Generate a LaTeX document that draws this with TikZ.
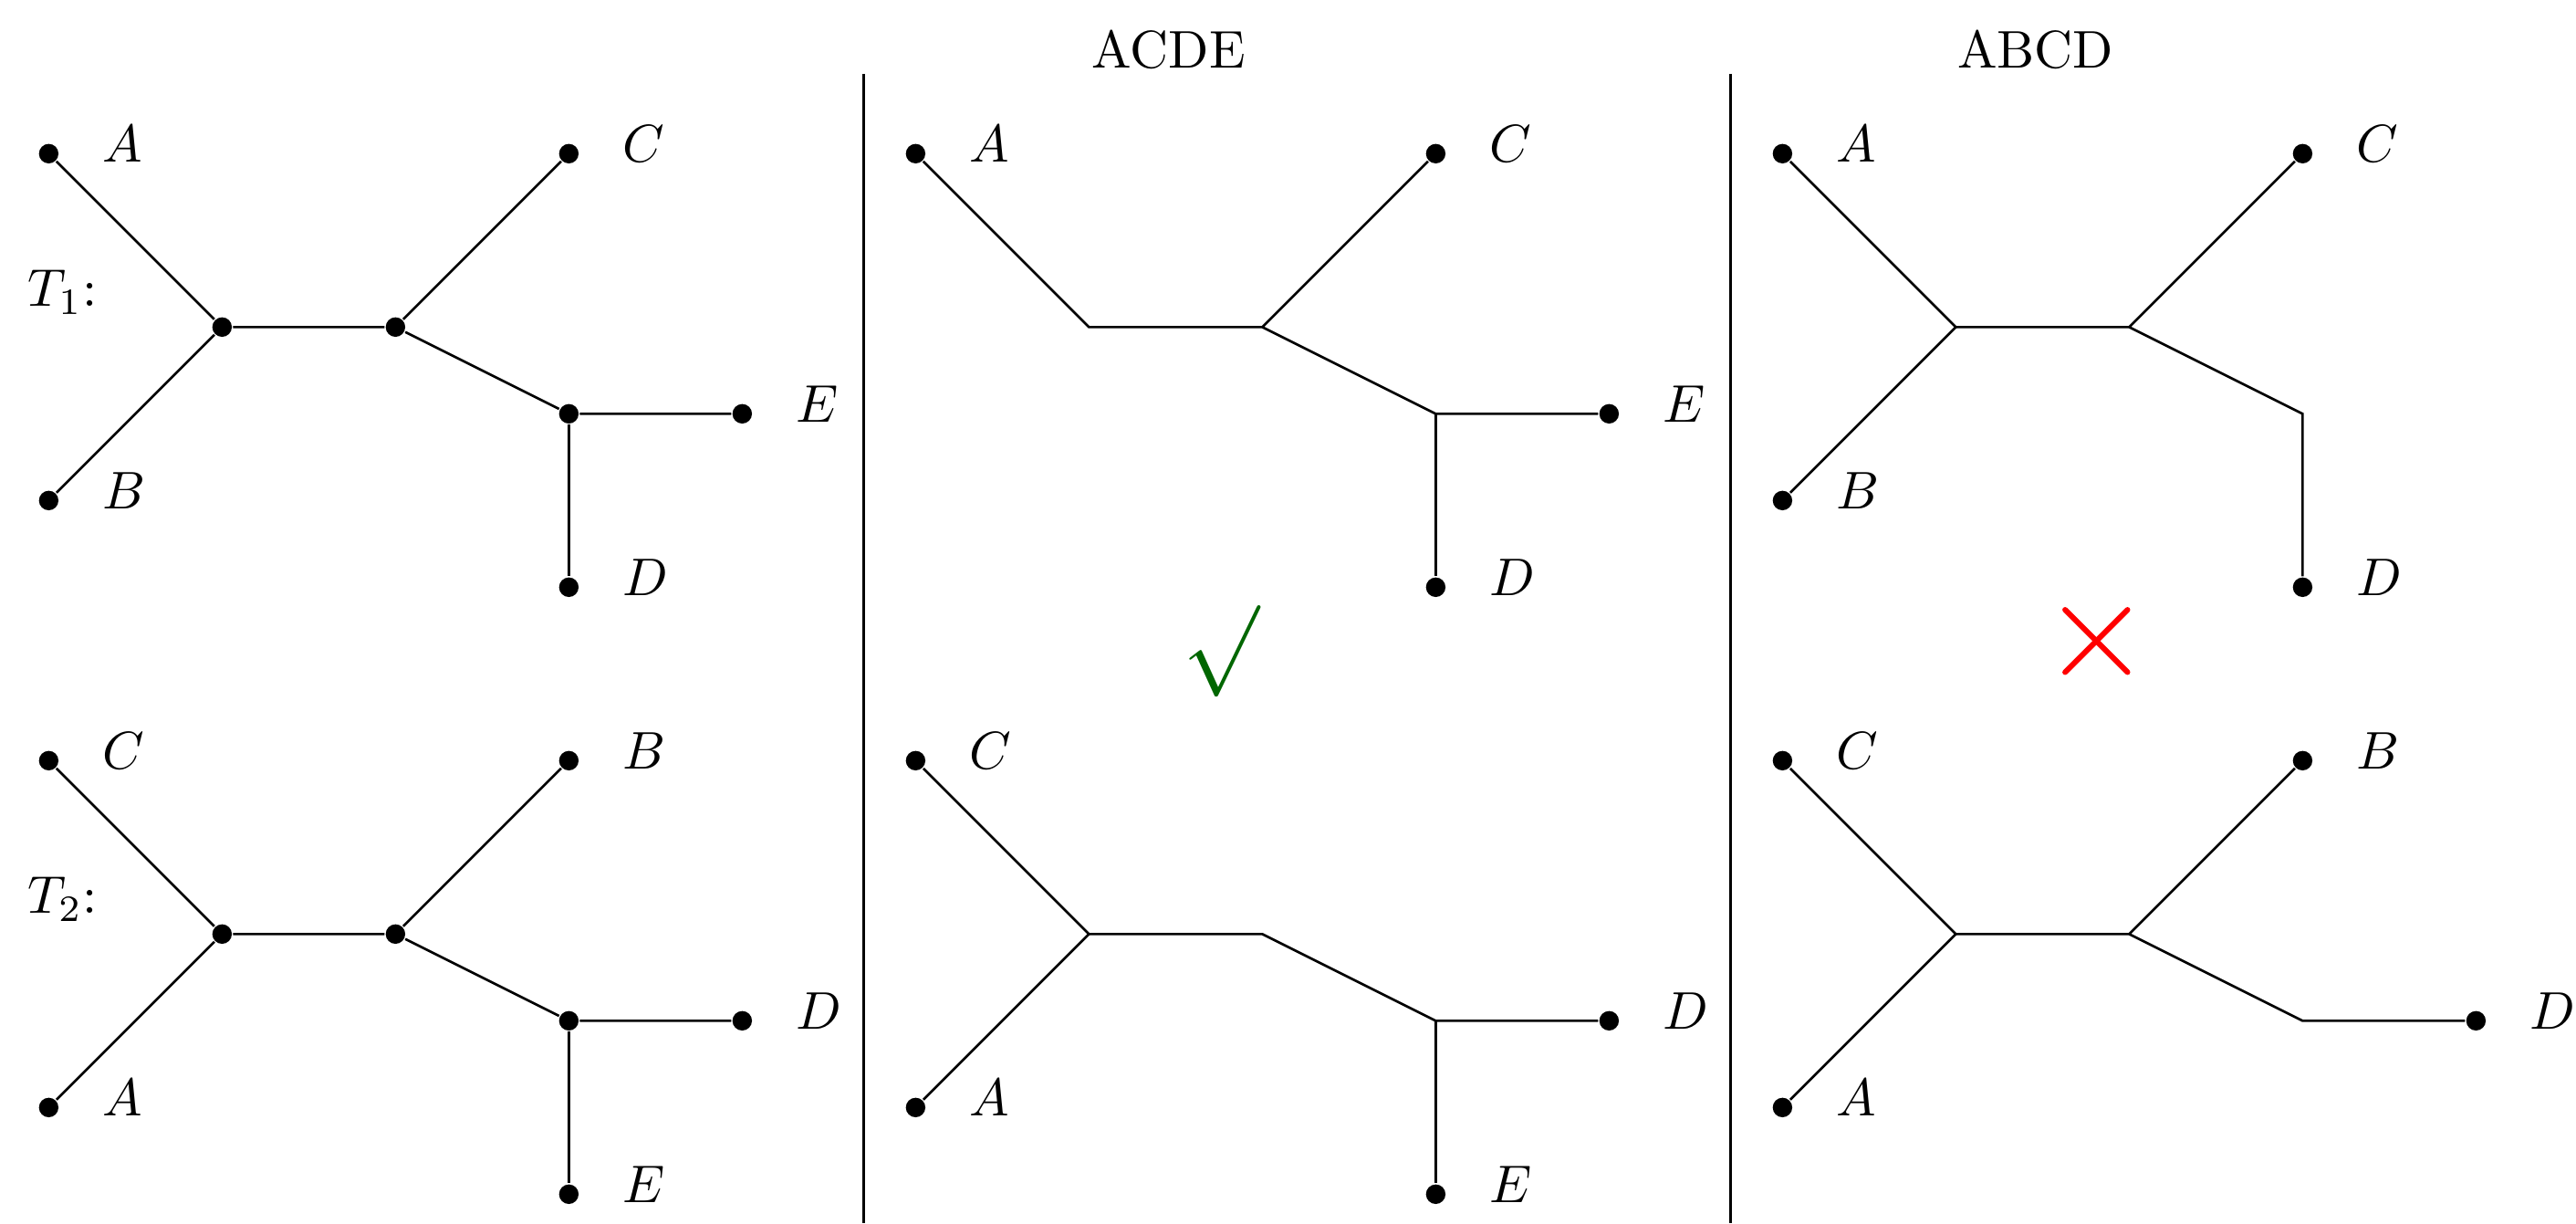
\documentclass[tikz,border=0pt]{standalone}
\usetikzlibrary{positioning}

\tikzset{
  dot/.style={circle, fill, inner sep=0pt, minimum size=3.2pt},
  txt/.style={scale=0.87},
  lbl/.style={txt, right=0.14cm of #1, yshift=1.8pt},
  cross/.style={red, line width=0.9pt, line cap=round},
}

\begin{document}
\begin{tikzpicture}
  \useasboundingbox (-1.281,-5.167) rectangle (13.577,1.886);
  % Panel titles and separators
  \node[txt] (acde) at (5.46,1.6) {ACDE};
  \node[txt] (abcd) at (10.46,1.6) {ABCD};
  \draw (3.7,1.46) -- (3.7,-5.167);
  \draw (8.7,1.46) -- (8.7,-5.167);

  % T1 (all inner vertices marked)
  \begin{scope}[name prefix=p-]
    \node[txt] (tname) at (-0.92,0.2) {$T_1$:};
    \node[dot] (a) at (-1,1) {};
    \node[dot] (b) at (-1,-1) {};
    \node[dot] (u) at (0,0) {};
    \node[dot] (v) at (1,0) {};
    \node[dot] (c) at (2,1) {};
    \node[dot] (w) at (2,-0.5) {};
    \node[dot] (e) at (3,-0.5) {};
    \node[dot] (d) at (2,-1.5) {};
    \draw (a) -- (u) -- (b);
    \draw (u) -- (v) -- (c);
    \draw (v) -- (w) -- (e);
    \draw (w) -- (d);
    \foreach \n/\t in {a/A,b/B,c/C,d/D,e/E}
      \node[lbl=\n] (l\n) {$\t$};
  \end{scope}

  % T2
  \begin{scope}[yshift=-3.5cm, name prefix=q-]
    \node[txt] (tname) at (-0.92,0.2) {$T_2$:};
    \node[dot] (c) at (-1,1) {};
    \node[dot] (a) at (-1,-1) {};
    \node[dot] (u) at (0,0) {};
    \node[dot] (v) at (1,0) {};
    \node[dot] (b) at (2,1) {};
    \node[dot] (w) at (2,-0.5) {};
    \node[dot] (d) at (3,-0.5) {};
    \node[dot] (e) at (2,-1.5) {};
    \draw (c) -- (u) -- (a);
    \draw (u) -- (v) -- (b);
    \draw (v) -- (w) -- (d);
    \draw (w) -- (e);
    \foreach \n/\t in {a/A,b/B,c/C,d/D,e/E}
      \node[lbl=\n] (l\n) {$\t$};
  \end{scope}

  % T1 restricted to ACDE
  \begin{scope}[xshift=5cm, name prefix=pm-]
    \node[dot] (a) at (-1,1) {};
    \coordinate (u) at (0,0);
    \coordinate (v) at (1,0);
    \node[dot] (c) at (2,1) {};
    \coordinate (w) at (2,-0.5);
    \node[dot] (e) at (3,-0.5) {};
    \node[dot] (d) at (2,-1.5) {};
    \draw (a) -- (u) -- (v) -- (c);
    \draw (v) -- (w) -- (e);
    \draw (w) -- (d);
    \foreach \n/\t in {a/A,c/C,d/D,e/E}
      \node[lbl=\n] (l\n) {$\t$};
  \end{scope}

  % T2 restricted to ACDE
  \begin{scope}[xshift=5cm, yshift=-3.5cm, name prefix=qm-]
    \node[dot] (c) at (-1,1) {};
    \node[dot] (a) at (-1,-1) {};
    \coordinate (u) at (0,0);
    \coordinate (v) at (1,0);
    \coordinate (w) at (2,-0.5);
    \node[dot] (d) at (3,-0.5) {};
    \node[dot] (e) at (2,-1.5) {};
    \draw (c) -- (u) -- (a);
    \draw (u) -- (v) -- (w) -- (d);
    \draw (w) -- (e);
    \foreach \n/\t in {a/A,c/C,d/D,e/E}
      \node[lbl=\n] (l\n) {$\t$};
  \end{scope}

  % T1 restricted to ABCD
  \begin{scope}[xshift=10cm, name prefix=pr-]
    \node[dot] (a) at (-1,1) {};
    \node[dot] (b) at (-1,-1) {};
    \coordinate (u) at (0,0);
    \coordinate (v) at (1,0);
    \node[dot] (c) at (2,1) {};
    \coordinate (w) at (2,-0.5);
    \node[dot] (d) at (2,-1.5) {};
    \draw (a) -- (u) -- (b);
    \draw (u) -- (v) -- (c);
    \draw (v) -- (w) -- (d);
    \foreach \n/\t in {a/A,b/B,c/C,d/D}
      \node[lbl=\n] (l\n) {$\t$};
  \end{scope}

  % T2 restricted to ABCD
  \begin{scope}[xshift=10cm, yshift=-3.5cm, name prefix=qr-]
    \node[dot] (c) at (-1,1) {};
    \node[dot] (a) at (-1,-1) {};
    \coordinate (u) at (0,0);
    \coordinate (v) at (1,0);
    \node[dot] (b) at (2,1) {};
    \coordinate (w) at (2,-0.5);
    \node[dot] (d) at (3,-0.5) {};
    \draw (c) -- (u) -- (a);
    \draw (u) -- (v) -- (b);
    \draw (v) -- (w) -- (d);
    \foreach \n/\t in {a/A,b/B,c/C,d/D}
      \node[lbl=\n] (l\n) {$\t$};
  \end{scope}

  % Verdicts
  \node[text=green!40!black, scale=1.5] (ok) at (5.76,-1.87) {$\surd$};
  \draw[cross] (10.63,-1.63) -- (10.99,-1.99);
  \draw[cross] (10.63,-1.99) -- (10.99,-1.63);
\end{tikzpicture}
\end{document}
